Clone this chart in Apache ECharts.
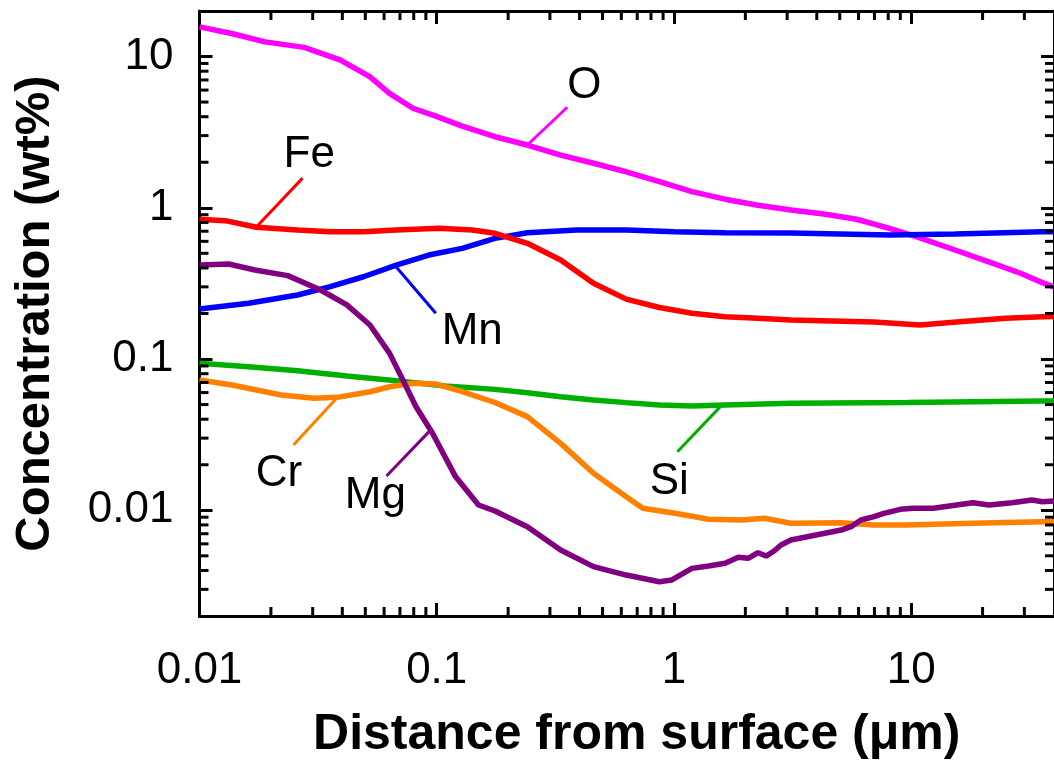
<!DOCTYPE html>
<html>
<head>
<meta charset="utf-8">
<script src="https://cdn.jsdelivr.net/npm/echarts@6/dist/echarts.min.js"></script>
<style>
  html, body { margin: 0; padding: 0; background: #fff; }
  #chart { width: 1054px; height: 773px; }
</style>
</head>
<body>
<div id="chart"></div>
<script>
// depth profiles, [distance (um), concentration (wt%)]
const oxygen = [[0.01, 15.7], [0.01365, 14.2], [0.0189, 12.5], [0.0276, 11.5], [0.0391, 9.5], [0.0522, 7.36],
  [0.0632, 5.71], [0.0794, 4.55], [0.099, 4.04], [0.128, 3.47], [0.176, 2.95], [0.241, 2.6], [0.333, 2.23],
  [0.458, 1.97], [0.629, 1.73], [0.868, 1.49], [1.19, 1.28], [1.64, 1.14], [2.26, 1.04], [3.11, 0.967],
  [4.28, 0.91], [5.89, 0.84], [8.1, 0.73], [10.5, 0.644], [15.3, 0.526], [21.1, 0.44], [28.9, 0.369],
  [35.7, 0.32], [40, 0.3]]
const iron = [[0.01, 0.839], [0.01285, 0.822], [0.0174, 0.743], [0.0259, 0.713], [0.0356, 0.694], [0.0491, 0.694],
  [0.0675, 0.713], [0.102, 0.731], [0.141, 0.713], [0.176, 0.678], [0.241, 0.582], [0.333, 0.452], [0.458, 0.317],
  [0.629, 0.249], [0.868, 0.219], [1.19, 0.2006], [1.64, 0.1905], [2.26, 0.186], [3.11, 0.181], [6.97, 0.176],
  [10.9, 0.168], [15.5, 0.176], [25, 0.186], [35.7, 0.1905], [40, 0.191]]
const manganese = [[0.01, 0.214], [0.0161, 0.2336], [0.0259, 0.265], [0.0356, 0.301], [0.0491, 0.35], [0.0675, 0.418],
  [0.0926, 0.487], [0.128, 0.539], [0.176, 0.628], [0.241, 0.684], [0.389, 0.713], [0.629, 0.713], [1.01, 0.694],
  [1.64, 0.684], [3.11, 0.68], [8.1, 0.66], [15.3, 0.67], [35.7, 0.694], [40, 0.695]]
const silicon = [[0.01, 0.0937], [0.0161, 0.089], [0.0259, 0.0837], [0.0418, 0.0772], [0.0675, 0.0719], [0.109, 0.0663],
  [0.176, 0.063], [0.241, 0.0599], [0.333, 0.0564], [0.458, 0.0536], [0.629, 0.0515], [0.868, 0.0497], [1.19, 0.049],
  [1.64, 0.0497], [3.11, 0.051], [9.6, 0.0515], [35.7, 0.0528], [40, 0.0528]]
const chromium = [[0.01, 0.0727], [0.0137, 0.0673], [0.0221, 0.0578], [0.0304, 0.055], [0.038, 0.0558], [0.0523, 0.0608],
  [0.0633, 0.0656], [0.0794, 0.0691], [0.099, 0.0684], [0.128, 0.0608], [0.176, 0.0516], [0.241, 0.0416],
  [0.333, 0.0277], [0.458, 0.01756], [0.629, 0.0123], [0.739, 0.0103], [1.01, 0.00955], [1.4, 0.00872],
  [1.93, 0.00862], [2.41, 0.00885], [3.11, 0.0082], [5.07, 0.00828], [6.97, 0.008], [9.6, 0.008], [18.2, 0.0082],
  [35.7, 0.0084], [40, 0.0084]]
const magnesium = [[0.01, 0.418], [0.01327, 0.425], [0.01713, 0.388], [0.02356, 0.356], [0.0324, 0.286], [0.0418, 0.228],
  [0.0523, 0.168], [0.0633, 0.109], [0.072, 0.0727], [0.0818, 0.0484], [0.096, 0.0323], [0.12, 0.0167], [0.15, 0.01084],
  [0.176, 0.00989], [0.241, 0.00779], [0.333, 0.00546], [0.458, 0.00424], [0.629, 0.00373], [0.868, 0.00337],
  [0.98, 0.00346], [1.19, 0.00413], [1.4, 0.00428], [1.643, 0.00446], [1.867, 0.00489], [2.055, 0.00481],
  [2.26, 0.00524], [2.448, 0.00498], [2.651, 0.0054], [2.826, 0.0059], [3.11, 0.00636], [5.07, 0.0074],
  [5.58, 0.00779], [6.14, 0.00862], [6.97, 0.00907], [7.67, 0.00955], [9.0, 0.01015], [10.2, 0.0103], [12.4, 0.0103],
  [14.5, 0.01067], [18.2, 0.01122], [21.3, 0.01084], [26.6, 0.01122], [32.3, 0.0117], [35.7, 0.0114], [40, 0.0115]]

// element tags: name, leader start, leader end, text position (data coords)
const tagO = ['O', [0.241, 2.6], [0.355, 4.62], [0.419, 6.38]]
const tagFe = ['Fe', [0.0174, 0.75], [0.0272, 1.57], [0.029, 2.25]]
const tagMn = ['Mn', [0.0671, 0.41], [0.0991, 0.2006], [0.1412, 0.152]]
const tagCr = ['Cr', [0.038, 0.0555], [0.0249, 0.027], [0.0216, 0.0174]]
const tagMg = ['Mg', [0.0944, 0.034], [0.0614, 0.01685], [0.0551, 0.0125]]
const tagSi = ['Si', [1.58, 0.049], [1.034, 0.0244], [0.955, 0.0155]]

const xMin = 0.01, xMax = 40
const yMin = 0.002, yMax = 20
const xMinorTicks = [0.02, 0.03, 0.04, 0.05, 0.06, 0.07, 0.08, 0.09, 0.2, 0.3, 0.4, 0.5, 0.6, 0.7, 0.8, 0.9,
  2, 3, 4, 5, 6, 7, 8, 9, 20, 30]
const yMinorTicks = [0.003, 0.004, 0.005, 0.006, 0.007, 0.008, 0.009, 0.02, 0.03, 0.04, 0.05, 0.06, 0.07, 0.08, 0.09,
  0.2, 0.3, 0.4, 0.5, 0.6, 0.7, 0.8, 0.9, 2, 3, 4, 5, 6, 7, 8, 9]

const font = 'Liberation Sans, Arial, sans-serif'

function profile(name, data, color, tag) {
    return {
        name: name,
        type: 'line',
        data: data,
        showSymbol: false,
        silent: true,
        lineStyle: { color: color, width: 5.5 },
        markLine: {
            silent: true,
            symbol: ['none', 'none'],
            label: { show: false },
            lineStyle: { color: color, width: 3, type: 'solid' },
            data: [[{ coord: tag[1] }, { coord: tag[2] }]]
        },
        markPoint: {
            silent: true,
            symbol: 'rect',
            symbolSize: 1,
            itemStyle: { color: 'rgba(0,0,0,0)' },
            label: {
                show: true,
                position: 'inside',
                formatter: tag[0],
                fontFamily: font,
                fontSize: 44,
                color: '#000'
            },
            data: [{ coord: tag[3] }]
        }
    }
}

// minor ticks drawn through the axes' own scale, on all four sides
function minorTicks(values, dir) {
    return {
        type: 'custom',
        coordinateSystem: 'cartesian2d',
        silent: true,
        clip: false,
        z: 10,
        data: values.map(v => dir === 'x' ? [v, yMin] : [xMin, v]),
        renderItem: function (params, api) {
            const cs = params.coordSys
            const p = api.coord([api.value(0), api.value(1)])
            const len = 9
            const style = { stroke: '#000', lineWidth: 3 }
            if (dir === 'x') {
                return { type: 'group', children: [
                    { type: 'line', shape: { x1: p[0], y1: cs.y + cs.height, x2: p[0], y2: cs.y + cs.height - len }, style: style },
                    { type: 'line', shape: { x1: p[0], y1: cs.y, x2: p[0], y2: cs.y + len }, style: style }
                ] }
            }
            return { type: 'group', children: [
                { type: 'line', shape: { x1: cs.x, y1: p[1], x2: cs.x + len, y2: p[1] }, style: style },
                { type: 'line', shape: { x1: cs.x + cs.width, y1: p[1], x2: cs.x + cs.width - len, y2: p[1] }, style: style }
            ] }
        }
    }
}

const axisLine = { show: true, onZero: false, lineStyle: { color: '#000', width: 3 } }
const majorTick = { show: true, inside: true, length: 13, lineStyle: { color: '#000', width: 3 } }
const tickFormat = v => String(+Number(v).toPrecision(3))

const chart = echarts.init(document.getElementById('chart'), null, { renderer: 'canvas' })
chart.setOption({
    animation: false,
    backgroundColor: '#fff',
    grid: { left: 199.5, right: -12, top: 11, bottom: 157 },
    xAxis: [{
        type: 'log',
        logBase: 10,
        min: xMin,
        max: xMax,
        position: 'bottom',
        axisLine: axisLine,
        axisTick: majorTick,
        splitLine: { show: false },
        axisLabel: {
            color: '#000', fontFamily: font, fontSize: 44, margin: 33,
            showMaxLabel: false, formatter: tickFormat
        },
        name: 'Distance from surface (\u03bcm)',
        nameLocation: 'middle',
        nameGap: 94,
        nameTextStyle: { color: '#000', fontFamily: font, fontSize: 50, fontWeight: 'bold', padding: [0, 0, 0, 20] }
    }, {
        type: 'log',
        logBase: 10,
        min: xMin,
        max: xMax,
        position: 'top',
        axisLine: axisLine,
        axisTick: majorTick,
        splitLine: { show: false },
        axisLabel: { show: false }
    }],
    yAxis: [{
        type: 'log',
        logBase: 10,
        min: yMin,
        max: yMax,
        position: 'left',
        axisLine: axisLine,
        axisTick: majorTick,
        splitLine: { show: false },
        axisLabel: {
            color: '#000', fontFamily: font, fontSize: 44, margin: 26,
            showMinLabel: false, showMaxLabel: false, formatter: tickFormat
        },
        name: 'Concentration (wt%)',
        nameLocation: 'middle',
        nameGap: 140,
        nameTextStyle: { color: '#000', fontFamily: font, fontSize: 49, fontWeight: 'bold' }
    }, {
        type: 'log',
        logBase: 10,
        min: yMin,
        max: yMax,
        position: 'right',
        axisLine: axisLine,
        axisTick: majorTick,
        splitLine: { show: false },
        axisLabel: { show: false }
    }],
    series: [
        profile('O', oxygen, '#FF00FF', tagO),
        profile('Mn', manganese, '#0000FF', tagMn),
        profile('Fe', iron, '#FF0000', tagFe),
        profile('Si', silicon, '#00B000', tagSi),
        profile('Cr', chromium, '#FF8000', tagCr),
        profile('Mg', magnesium, '#800080', tagMg),
        minorTicks(xMinorTicks, 'x'),
        minorTicks(yMinorTicks, 'y')
    ]
})
</script>
</body>
</html>
